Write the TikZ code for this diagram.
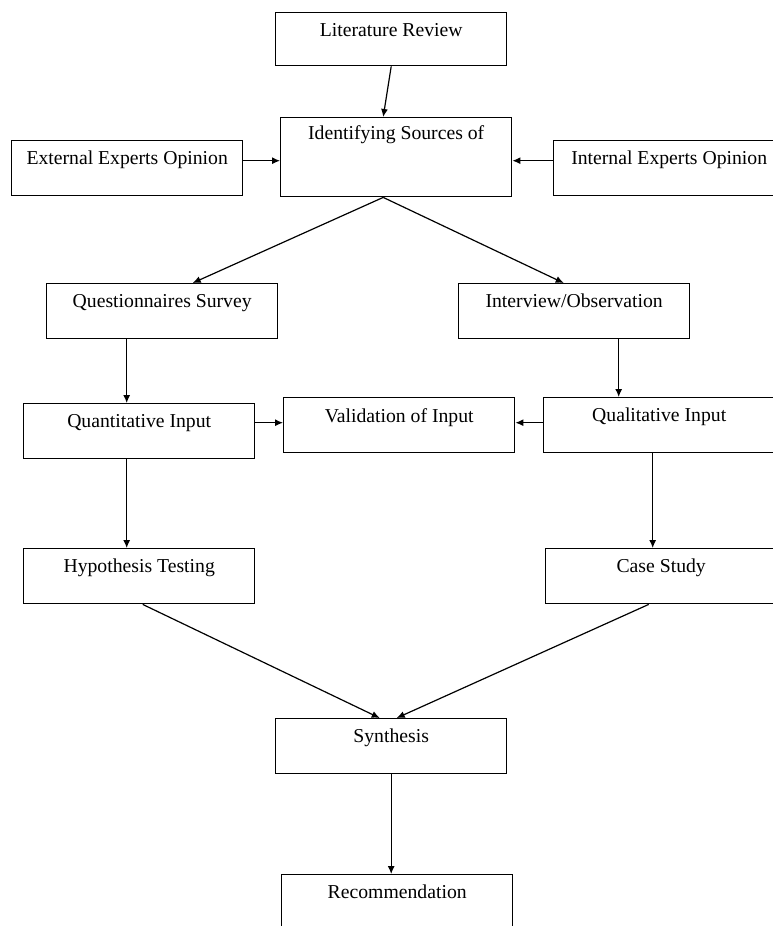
\documentclass[tikz,border=0pt]{standalone}
\usepackage{fontspec}
\setmainfont{Liberation Serif}
\usetikzlibrary{arrows.meta}

\begin{document}
\begin{tikzpicture}[x=1pt, y=-1pt, >={Latex[length=8pt,width=7pt]},
	box/.style={draw, line width=1.4pt, anchor=north west, minimum width=231pt,
		inner sep=0pt, text height=24pt, text depth=31pt,
		font=\fontsize{19.7}{22}\selectfont},
	tallbox/.style={box, text height=22pt, text depth=57pt}]
	\useasboundingbox (0,0) rectangle (772,926);
	% блоки
	\node [box, text depth=29pt] (lit) at (275,12) {Literature Review};
	\node [tallbox] (ident) at (280,117) {Identifying Sources of};
	\node [box] (ext) at (11,140) {External Experts Opinion};
	\node [box] (int) at (553,140) {Internal Experts Opinion};
	\node [box] (quest) at (46,283) {Questionnaires Survey};
	\node [box] (interv) at (458,283) {Interview/Observation};
	\node [box] (quant) at (23,403) {Quantitative Input};
	\node [box, text height=25pt, text depth=30pt] (valid) at (283,397) {Validation of Input};
	\node [box] (qual) at (543,397) {Qualitative Input};
	\node [box] (hyp) at (23,548) {Hypothesis Testing};
	\node [box] (case) at (545,548) {Case Study};
	\node [box] (synth) at (275,718) {Synthesis};
	\node [box] (recom) at (281,874) {Recommendation};
	% стрелки
	\draw [->, line width=1.2pt] (lit.south) -- ([xshift=-13pt]ident.north);
	\draw [->, line width=1.2pt] ([yshift=7.5pt]ext.east) -- ([yshift=7.5pt]ext.east -| ident.west);
	\draw [->, line width=1.2pt] ([yshift=7.5pt]int.west) -- ([yshift=7.5pt]int.west -| ident.east);
	\draw [->, line width=1.2pt] ([xshift=-13pt]ident.south) -- ([xshift=30.5pt]quest.north);
	\draw [->, line width=1.2pt] ([xshift=-13pt]ident.south) -- ([xshift=-10.5pt]interv.north);
	\draw [->, line width=1.2pt] ([xshift=-35.5pt]quest.south) -- ([xshift=-35.5pt]quest.south |- quant.north);
	\draw [->, line width=1.2pt] ([xshift=44.5pt]interv.south) -- ([xshift=44.5pt]interv.south |- qual.north);
	\draw [->, line width=1.2pt] ([yshift=8.5pt]quant.east) -- ([yshift=8.5pt]quant.east -| valid.west);
	\draw [->, line width=1.2pt] ([yshift=2.5pt]qual.west) -- ([yshift=2.5pt]qual.west -| valid.east);
	\draw [->, line width=1.2pt] ([xshift=-12.5pt]quant.south) -- ([xshift=-12.5pt]quant.south |- hyp.north);
	\draw [->, line width=1.2pt] ([xshift=-6.5pt]qual.south) -- ([xshift=-6.5pt]qual.south |- case.north);
	\draw [->, line width=1.2pt] ([xshift=3.5pt]hyp.south) -- ([xshift=-11.5pt]synth.north);
	\draw [->, line width=1.2pt] ([xshift=-12.5pt]case.south) -- ([xshift=5.5pt]synth.north);
	\draw [->, line width=1.2pt] (synth.south) -- (synth.south |- recom.north);
\end{tikzpicture}
\end{document}
